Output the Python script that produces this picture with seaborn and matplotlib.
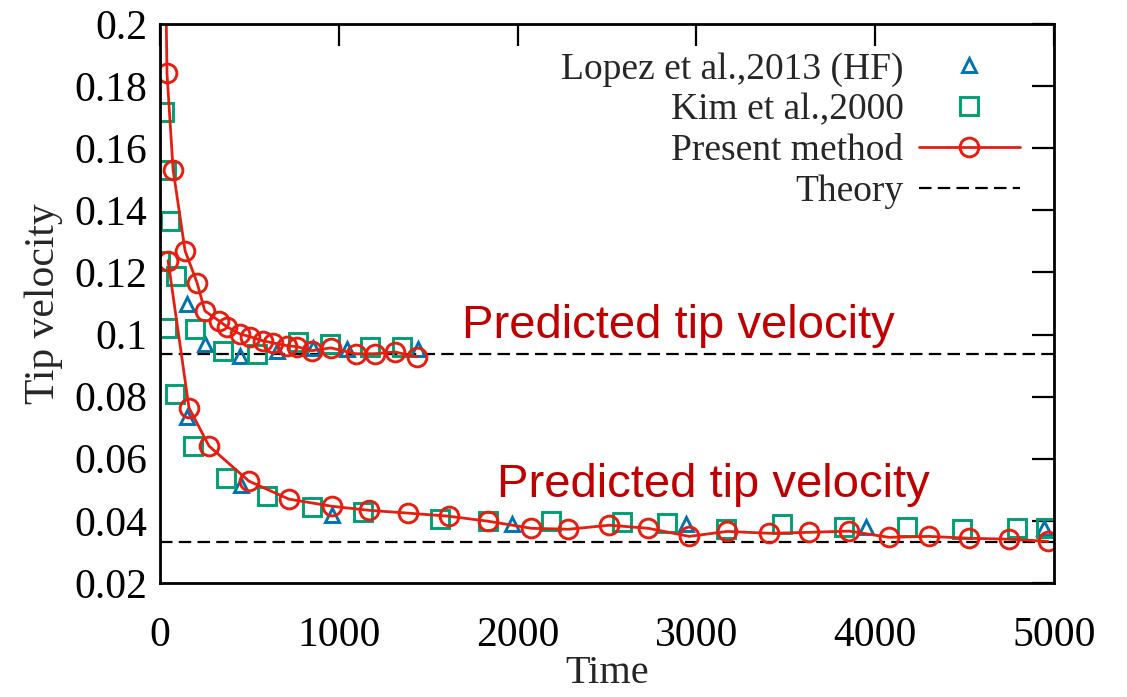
import numpy as np
import pandas as pd
import matplotlib
matplotlib.use("Agg")
import matplotlib.pyplot as plt
import seaborn as sns

# Lopez et al., 2013 (HF) -- two cases
lopez_hi_t = [151, 251, 447, 654, 855, 1045, 1441]
lopez_hi_v = [0.1099, 0.0970, 0.0931, 0.0947, 0.0957, 0.0955, 0.0954]
lopez_lo_t = [151, 453, 961, 1967, 2944, 3950, 4945]
lopez_lo_v = [0.0734, 0.0515, 0.0418, 0.0389, 0.0389, 0.0380, 0.0376]

# Kim et al., 2000
kim_hi_t = [22, 34, 56, 89, 196, 352, 542, 771, 950, 1173, 1352]
kim_hi_v = [0.1718, 0.1531, 0.1364, 0.1189, 0.1018, 0.0946, 0.0938, 0.0976,
            0.0970, 0.0960, 0.0960]
kim_lo_t = [0, 39, 84, 184, 369, 598, 849, 1134, 1564, 1833, 2190, 2587,
            2838, 3168, 3481, 3827, 4179, 4486, 4793, 4955]
kim_lo_v = [0.1236, 0.1021, 0.0808, 0.0641, 0.0538, 0.0480, 0.0444, 0.0427,
            0.0405, 0.0400, 0.0399, 0.0396, 0.0393, 0.0373, 0.0389, 0.0380,
            0.0380, 0.0373, 0.0376, 0.0376]

# Present method
present_hi_t = [20, 39, 73, 140, 207, 251, 330, 374, 447, 503, 575, 631, 710,
                765, 849, 955, 1095, 1201, 1313, 1436]
present_hi_v = [0.26, 0.1841, 0.1531, 0.1270, 0.1167, 0.1076, 0.1044, 0.1025,
                0.1002, 0.0993, 0.0980, 0.0973, 0.0964, 0.0961, 0.0948, 0.0957,
                0.0938, 0.0938, 0.0944, 0.0928]
present_lo_t = [45, 162, 274, 497, 721, 961, 1168, 1386, 1615, 1833, 2078,
                2285, 2514, 2732, 2961, 3173, 3408, 3632, 3855, 4078, 4302,
                4525, 4749, 4967]
present_lo_v = [0.1238, 0.0764, 0.0641, 0.0528, 0.0470, 0.0447, 0.0434, 0.0425,
                0.0415, 0.0399, 0.0376, 0.0373, 0.0386, 0.0376, 0.0350, 0.0366,
                0.0360, 0.0363, 0.0367, 0.0347, 0.0350, 0.0344, 0.0341, 0.0334]

# Theory
theory_v = [0.0938, 0.0333]

x_ticks = [0, 1000, 2000, 3000, 4000, 5000]
y_ticks = [0.02, 0.04, 0.06, 0.08, 0.1, 0.12, 0.14, 0.16, 0.18, 0.2]

annot_text = "Predicted tip velocity"
annot_pos = [(1687, 0.0988), (1883, 0.0476)]

BLUE, GREEN, RED = "#0072b2", "#009e73", "#e51e10"

sns.set_style("white")
plt.rcParams["font.family"] = ["Liberation Serif", "DejaVu Serif"]
plt.rcParams["lines.scale_dashes"] = False

fig = plt.figure(figsize=(11.27, 6.97), dpi=100)
ax = fig.add_axes([0.142, 0.1636, 0.793, 0.802])

pts = dict(linestyle="none", estimator=None, sort=False,
           markerfacecolor="none", markeredgewidth=2.1)
sns.lineplot(x=lopez_hi_t, y=lopez_hi_v, ax=ax, marker="^", markersize=10,
             markeredgecolor=BLUE, color=BLUE,
             label="Lopez et al.,2013 (HF)", **pts)
sns.lineplot(x=lopez_lo_t, y=lopez_lo_v, ax=ax, marker="^", markersize=10,
             markeredgecolor=BLUE, color=BLUE, label="_nolegend_", **pts)
sns.lineplot(x=kim_hi_t, y=kim_hi_v, ax=ax, marker="s", markersize=13.5,
             markeredgecolor=GREEN, color=GREEN,
             label="Kim et al.,2000", **pts)
sns.lineplot(x=kim_lo_t, y=kim_lo_v, ax=ax, marker="s", markersize=13.5,
             markeredgecolor=GREEN, color=GREEN, label="_nolegend_", **pts)

line = dict(estimator=None, sort=False, linewidth=2.0, marker="o",
            markersize=13.5, markerfacecolor="none", markeredgecolor=RED,
            markeredgewidth=2.1, color=RED)
sns.lineplot(x=present_hi_t, y=present_hi_v, ax=ax, label="Present method", **line)
sns.lineplot(x=present_lo_t, y=present_lo_v, ax=ax, label="_nolegend_", **line)

for i, v in enumerate(theory_v):
    ax.axhline(v, color="black", linewidth=1.6, dashes=(9, 4.5),
               label="Theory" if i == 0 else "_nolegend_", zorder=1.5)

for (tx, ty) in annot_pos:
    ax.text(tx, ty, annot_text, fontsize=34, color="#c00000",
            family=["Liberation Sans", "DejaVu Sans"], va="baseline", ha="left")

ax.set_xlim(0, 5000)
ax.set_ylim(0.02, 0.2)
ax.set_xticks(x_ticks)
ax.set_yticks(y_ticks)
ax.set_xticklabels([str(t) for t in x_ticks])
ax.set_yticklabels([f"{t:g}" for t in y_ticks])
ax.tick_params(direction="in", length=16, width=1.6, top=True, right=True,
               labelsize=30, color="black", labelcolor="black")
ax.tick_params(axis="x", pad=24)
ax.tick_params(axis="y", pad=9)
for s in ax.spines.values():
    s.set_color("black")
    s.set_linewidth(2.0)

ax.set_xlabel("Time", fontsize=29, labelpad=0)
ax.set_ylabel("Tip velocity", fontsize=30, labelpad=8)

handles, labels = ax.get_legend_handles_labels()
ax.legend(handles, labels, loc="upper right", bbox_to_anchor=(0.962, 0.95),
          frameon=False, markerfirst=False, fontsize=27, handlelength=2.7,
          handletextpad=0.4, labelspacing=0.17, borderpad=0, borderaxespad=0)

fig.savefig("out.png", dpi=100)
